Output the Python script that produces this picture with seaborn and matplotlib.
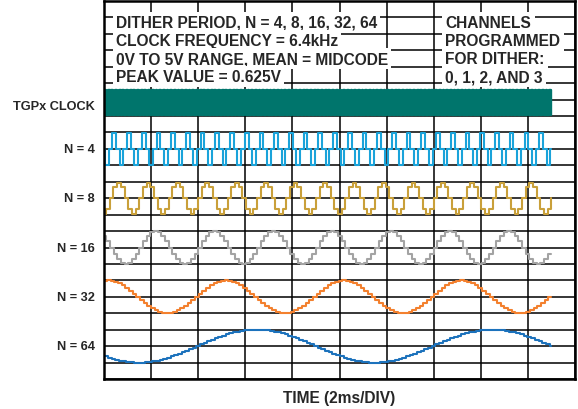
import numpy as np
import pandas as pd
import matplotlib
matplotlib.use("Agg")
import matplotlib.pyplot as plt
import seaborn as sns

# 스코프 캡처 데이터
clock_khz = 6.4
step_ms = 1 / clock_khz            # 한 클럭 = 한 계단
t_end = 19.0                       # 트레이스 끝 (ms)

trace_names = ["N = 4", "N = 8", "N = 16", "N = 32", "N = 64"]
# 1/4 주기 계단 값 (피크 = 1)
q4 = [0, 1]
q8 = [0, 0.71, 1]
q16 = [0, 0.38, 0.71, 0.92, 1]
q32 = [0, 0.20, 0.38, 0.56, 0.71, 0.83, 0.92, 0.98, 1]
q64 = [0, 0.10, 0.20, 0.29, 0.38, 0.47, 0.56, 0.63, 0.71, 0.77,
       0.83, 0.88, 0.92, 0.96, 0.98, 1.00, 1]
quarter_tables = [q4, q8, q16, q32, q64]
start_ms = [-0.425, -1.003, -1.0, -1.13, -6.08]   # 첫 계단 시작 시각
peak_div = [0.95, 0.95, 1.0, 1.0, 1.0]             # 피크 (눈금 단위)
clock_levels = [1, 0]

header_left = ["DITHER PERIOD, N = 4, 8, 16, 32, 64",
               "CLOCK FREQUENCY = 6.4kHz",
               "0V TO 5V RANGE, MEAN = MIDCODE",
               "PEAK VALUE = 0.625V"]
header_right = ["CHANNELS", "PROGRAMMED", "FOR DITHER:", "0, 1, 2, AND 3"]

# 배치 / 스타일
centers = [14, 11, 8, 5, 2]
clock_low, clock_high = 16.05, 17.6
colors = ["#1AA3DA", "#C9A03A", "#A3A3A3", "#F3802E", "#1C72BC"]
clock_color = "#00756C"


def full_period(q):
    half = list(q) + list(q[-2:0:-1])
    return np.array(half + [-v for v in half])


def step_trace(levels, t0, dt):
    n = int(np.ceil((t_end - t0) / dt)) + 1
    t = t0 + np.arange(n) * dt
    y = np.resize(np.asarray(levels, dtype=float), n)
    keep = t < t_end
    t = np.append(t[keep], t_end)
    y = np.append(y[keep], y[keep][-1])
    return t, y


frames = []
for name, q, t0, pk, c in zip(trace_names, quarter_tables, start_ms, peak_div, centers):
    t, y = step_trace(full_period(q), t0, step_ms)
    frames.append(pd.DataFrame({"t": t, "y": c + pk * y, "trace": name}))
df = pd.concat(frames, ignore_index=True)

tc, yc = step_trace(clock_levels, 0.0, step_ms / 2)
clock_df = pd.DataFrame({"t": tc, "y": clock_low + (clock_high - clock_low) * yc})

sns.set_style("white")
plt.rcParams["font.family"] = ["Liberation Sans", "DejaVu Sans"]

fig = plt.figure(figsize=(5.78, 4.10), dpi=100)
ax = fig.add_axes([104 / 578, 30 / 410, 471 / 578, 378 / 410])

sns.lineplot(data=clock_df, x="t", y="y", color=clock_color, linewidth=1.7,
             estimator=None, sort=False, drawstyle="steps-post", ax=ax)
sns.lineplot(data=df, x="t", y="y", hue="trace", hue_order=trace_names,
             palette=colors, linewidth=1.5, estimator=None, sort=False,
             drawstyle="steps-post", legend=False, ax=ax)

ax.set_xlim(0, 20)
ax.set_ylim(0, 23)
ax.set_xticks(np.arange(0, 21, 2))
ax.set_yticks(np.arange(0, 24, 1))
ax.tick_params(length=0, labelbottom=False, labelleft=False)
ax.grid(True, color="black", linewidth=1.1)
ax.set_axisbelow(True)
ax.set_xlabel("")
ax.set_ylabel("")
for s in ax.spines.values():
    s.set_color("black")
    s.set_linewidth(1.8)

box = dict(facecolor="white", edgecolor="none", pad=2.4)
for i, line in enumerate(header_left):
    ax.text(0.5, 21.7 - 1.1 * i, line, fontsize=11.2, fontweight="bold",
            va="center", ha="left", bbox=box, zorder=5)
for i, line in enumerate(header_right):
    ax.text(14.5, 21.7 - 1.1 * i, line, fontsize=11.2, fontweight="bold",
            va="center", ha="left", bbox=box, zorder=5)

ax.text(-0.38, 16.6, "TGPx CLOCK", fontsize=9.2,
        fontweight="bold", ha="right", va="center", clip_on=False)
for name, c in zip(trace_names, centers):
    ax.text(-0.38, c, name, fontsize=9.2, fontweight="bold",
            ha="right", va="center", clip_on=False)

ax.text(10, -1.1, "TIME (2ms/DIV)", fontsize=11.2, fontweight="bold",
        ha="center", va="center", clip_on=False)

plt.savefig("out.png", dpi=100)
